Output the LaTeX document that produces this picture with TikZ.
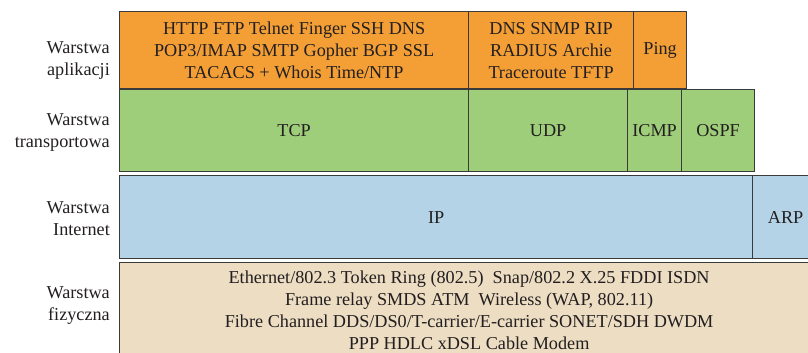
\documentclass[tikz,border=0pt]{standalone}
\usepackage{fontspec}
\setmainfont{Liberation Serif}
\definecolor{appc}{HTML}{F49F36}
\definecolor{trc}{HTML}{9ECE7A}
\definecolor{inc}{HTML}{B4D3E6}
\definecolor{phc}{HTML}{ECDDC3}
\definecolor{edgec}{HTML}{3A3A3A}
\definecolor{ink}{HTML}{231F20}
\begin{document}
\begin{tikzpicture}[x=1pt,y=-1pt,
  txt/.style={font=\fontsize{18.2}{22}\selectfont, text=ink},
  cell/.style={txt, draw=edgec, line width=1.2pt, anchor=north west, inner sep=0pt, align=center},
  lab/.style={txt, anchor=east, align=right, inner sep=0pt}]
\useasboundingbox (0,0) rectangle (808,353);
% application layer
\node[cell, fill=appc, minimum width=349pt, minimum height=77pt] (http) at (119,11)
  {HTTP FTP Telnet Finger SSH DNS\\POP3/IMAP SMTP Gopher BGP SSL\\TACACS + Whois Time/NTP};
\node[cell, fill=appc, minimum width=165pt, minimum height=77pt] (dns) at (468,11)
  {DNS SNMP RIP\\RADIUS Archie\\Traceroute TFTP};
\node[cell, fill=appc, minimum width=53pt, minimum height=77pt] (ping) at (633,11) {Ping};
% transport layer
\node[cell, fill=trc, minimum width=349pt, minimum height=82pt] (tcp) at (119,89) {TCP};
\node[cell, fill=trc, minimum width=159pt, minimum height=82pt] (udp) at (468,89) {UDP};
\node[cell, fill=trc, minimum width=54pt, minimum height=82pt] (icmp) at (627,89) {ICMP};
\node[cell, fill=trc, minimum width=73pt, minimum height=82pt] (ospf) at (681,89) {OSPF};
% internet layer
\node[cell, fill=inc, minimum width=633pt, minimum height=83pt] (ip) at (119,175) {IP};
\node[cell, fill=inc, minimum width=66pt, minimum height=83pt] (arp) at (752,175) {ARP};
% physical layer
\node[cell, fill=phc, minimum width=699pt, minimum height=96pt] (phys) at (119,262)
  {Ethernet/802.3 Token Ring (802.5)\ \ Snap/802.2 X.25 FDDI ISDN\\
   Frame relay SMDS ATM\ \ Wireless (WAP, 802.11)\\
   Fibre Channel DDS/DS0/T-carrier/E-carrier SONET/SDH DWDM\\
   PPP HDLC xDSL Cable Modem};
% labels
\node[lab] (la) at (110,60) {Warstwa\\aplikacji};
\node[lab] (lt) at (110,132) {Warstwa\\transportowa};
\node[lab] (li) at (110,219) {Warstwa\\Internet};
\node[lab] (lf) at (110,306) {Warstwa\\fizyczna};
\end{tikzpicture}
\end{document}
